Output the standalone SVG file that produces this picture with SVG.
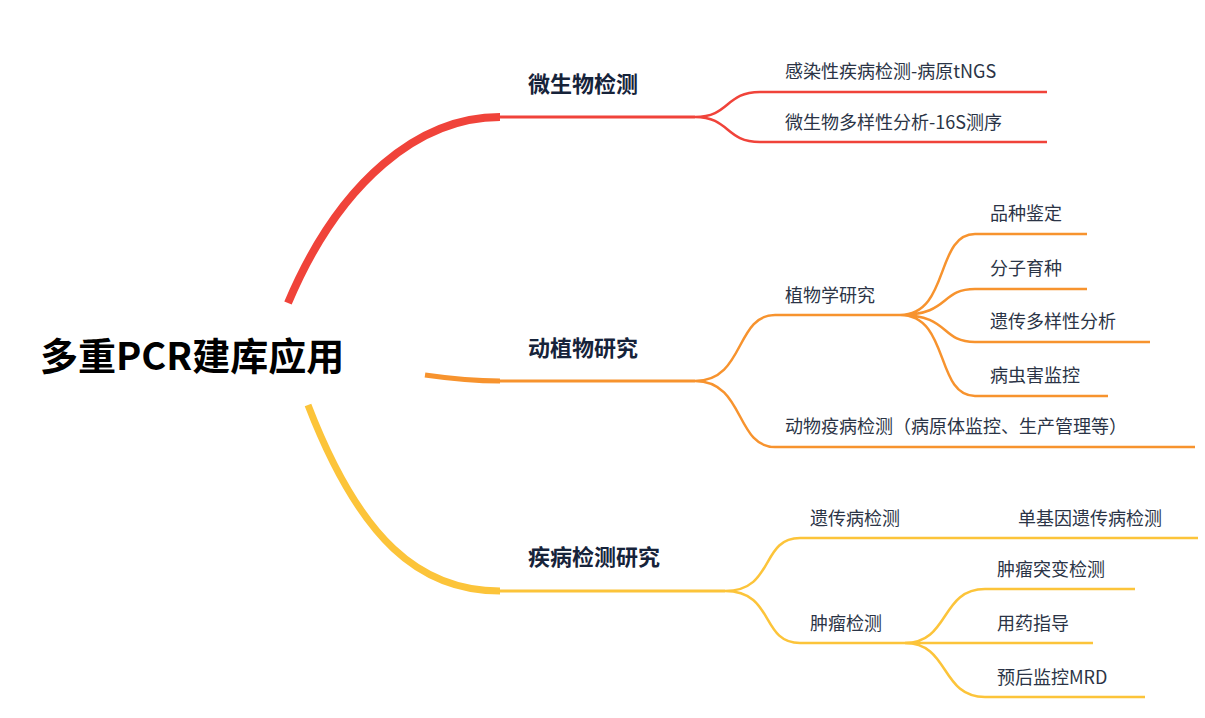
<svg xmlns="http://www.w3.org/2000/svg" width="1205" height="718" viewBox="0 0 1205 718">
<style>
.t{font-family:"Noto Sans CJK SC","Noto Sans",sans-serif;font-size:18px;fill:#2b3446}
.m{font-family:"Noto Sans CJK SC","Noto Sans",sans-serif;font-size:22px;font-weight:bold;fill:#16233a}
.r{font-family:"Noto Sans CJK SC","Noto Sans",sans-serif;font-size:38px;font-weight:bold;fill:#000}
.red{stroke:#f0433a;fill:none}
.org{stroke:#f7932e;fill:none}
.yel{stroke:#fcc43a;fill:none}
.s{stroke-width:2.5}
</style>
<g id="connectors">
<path class="red" stroke-width="8" d="M288,303 C340,180 420,117 500,117"/>
<path class="red" stroke-width="3" d="M500,117 L695,117"/>
<path class="red s" d="M695,117 C730,117 725,92 760,92 L1047,92 M695,117 C730,117 725,142 760,142 L1047,142"/>
<path class="org" stroke-width="5" d="M425,375 C460,380 480,381 500,381"/>
<path class="org" stroke-width="3" d="M500,381 L695,381"/>
<path class="org s" d="M695,381 C745,381 735,315 775,315 L900,315 M695,381 C745,381 735,447 775,447 L1195,447"/>
<path class="org s" d="M900,315 C950,315 935,234 975,234 L1087,234 M900,315 C950,315 940,289 975,289 L1087,289 M900,315 C950,315 940,342 975,342 L1150,342 M900,315 C950,315 935,396 975,396 L1108,396"/>
<path class="yel" stroke-width="7" d="M308,405 C360,540 420,591 500,591"/>
<path class="yel" stroke-width="3" d="M500,591 L725,591"/>
<path class="yel s" d="M725,591 C775,591 760,538 800,538 L1198,538 M725,591 C775,591 760,643 800,643 L920,643"/>
<path class="yel s" d="M905,643 C950,643 940,589 985,589 L1135,589 M905,643 L1093,643 M905,643 C950,643 940,697 985,697 L1145,697"/>
</g>
<g id="root"><text class="r" x="40" y="370">多重PCR建库应用</text></g>
<g id="n1"><text class="m" x="528" y="92">微生物检测</text></g>
<g id="n1a"><text class="t" x="785" y="78">感染性疾病检测-病原tNGS</text></g>
<g id="n1b"><text class="t" x="785" y="129">微生物多样性分析-16S测序</text></g>
<g id="n2"><text class="m" x="528" y="356">动植物研究</text></g>
<g id="n2a"><text class="t" x="785" y="302">植物学研究</text></g>
<g id="n2a1"><text class="t" x="990" y="220">品种鉴定</text></g>
<g id="n2a2"><text class="t" x="990" y="275">分子育种</text></g>
<g id="n2a3"><text class="t" x="990" y="328">遗传多样性分析</text></g>
<g id="n2a4"><text class="t" x="990" y="382">病虫害监控</text></g>
<g id="n2b"><text class="t" x="785" y="433">动物疫病检测（病原体监控、生产管理等）</text></g>
<g id="n3"><text class="m" x="528" y="565">疾病检测研究</text></g>
<g id="n3a"><text class="t" x="810" y="525">遗传病检测</text></g>
<g id="n3a1"><text class="t" x="1018" y="525">单基因遗传病检测</text></g>
<g id="n3b"><text class="t" x="810" y="630">肿瘤检测</text></g>
<g id="n3b1"><text class="t" x="997" y="576">肿瘤突变检测</text></g>
<g id="n3b2"><text class="t" x="997" y="630">用药指导</text></g>
<g id="n3b3"><text class="t" x="997" y="684">预后监控MRD</text></g>
</svg>
